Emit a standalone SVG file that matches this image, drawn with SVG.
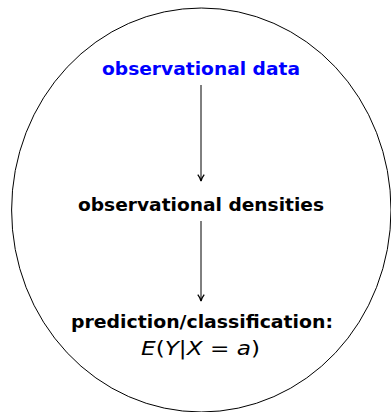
<svg xmlns="http://www.w3.org/2000/svg" width="391" height="412" viewBox="0 0 391 412">
<style>
.lbl{font-family:"DejaVu Sans","Liberation Sans",sans-serif;font-weight:bold;font-size:18.5px;text-anchor:middle;fill:#000}
.math{font-family:"DejaVu Sans","Liberation Sans",sans-serif;font-size:19px;text-anchor:middle;fill:#000}
.it{font-style:italic}
.edge{stroke:#000;stroke-width:1;fill:none;marker-end:url(#ah)}
</style>
<defs>
<marker id="ah" viewBox="0 0 10 10" refX="9" refY="5" markerWidth="8" markerHeight="8" markerUnits="userSpaceOnUse" orient="auto">
<path d="M1,1 Q5,4 9,5 Q5,6 1,9" fill="none" stroke="#000" stroke-width="1.6"/>
</marker>
</defs>
<rect width="391" height="412" fill="#fff"/>
<g id="boundary">
<ellipse cx="201.3" cy="210" rx="189.7" ry="202" fill="none" stroke="#000" stroke-width="1"/>
</g>
<g id="connectors">
<line class="edge" x1="201" y1="85" x2="201" y2="181"/>
<line class="edge" x1="201" y1="221" x2="201" y2="301"/>
</g>
<g id="n1">
<text class="lbl" x="201" y="75" style="fill:#0000ff" textLength="198" lengthAdjust="spacingAndGlyphs">observational data</text>
</g>
<g id="n2">
<text class="lbl" x="201" y="211" textLength="246" lengthAdjust="spacingAndGlyphs">observational densities</text>
</g>
<g id="n3">
<text class="lbl" x="202" y="328" textLength="262" lengthAdjust="spacingAndGlyphs">prediction/classification:</text>
<text class="math" x="200.5" y="355" textLength="119" lengthAdjust="spacingAndGlyphs"><tspan class="it">E</tspan>(<tspan class="it">Y</tspan>|<tspan class="it">X</tspan> = <tspan class="it">a</tspan>)</text>
</g>
</svg>
